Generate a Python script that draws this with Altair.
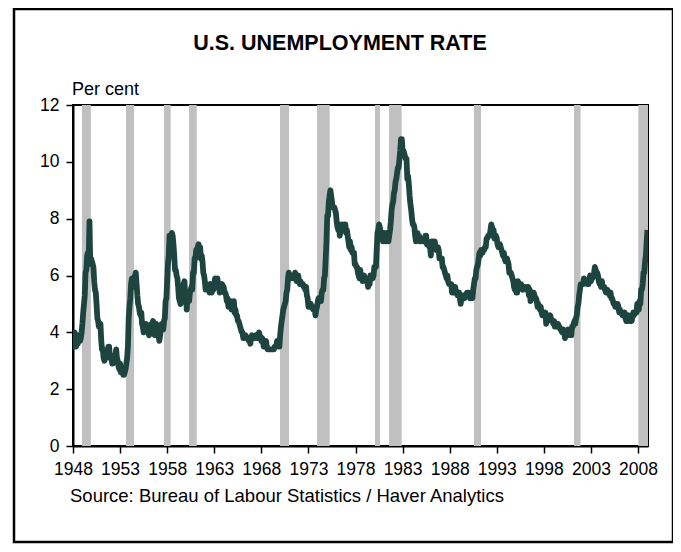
import altair as alt
import pandas as pd

# Monthly U.S. unemployment rate, per cent (Jan..Dec), 1948-2008, plus Jan 2009
years = list(range(1948, 2010))
rates = [
    [3.4, 3.8, 4.0, 3.9, 3.5, 3.6, 3.6, 3.9, 3.8, 3.7, 3.8, 4.0],  # 1948
    [4.3, 4.7, 5.0, 5.3, 6.1, 6.2, 6.7, 6.8, 6.6, 7.9, 6.4, 6.6],  # 1949
    [6.5, 6.4, 6.3, 5.8, 5.5, 5.4, 5.0, 4.5, 4.4, 4.2, 4.2, 4.3],  # 1950
    [3.7, 3.4, 3.4, 3.1, 3.0, 3.2, 3.1, 3.1, 3.3, 3.5, 3.5, 3.1],  # 1951
    [3.2, 3.1, 2.9, 2.9, 3.0, 3.0, 3.2, 3.4, 3.1, 3.0, 2.8, 2.7],  # 1952
    [2.9, 2.6, 2.6, 2.7, 2.5, 2.5, 2.6, 2.7, 2.9, 3.1, 3.5, 4.5],  # 1953
    [4.9, 5.2, 5.7, 5.9, 5.9, 5.6, 5.8, 6.0, 6.1, 5.7, 5.3, 5.0],  # 1954
    [4.9, 4.7, 4.6, 4.7, 4.3, 4.2, 4.0, 4.2, 4.1, 4.3, 4.2, 4.2],  # 1955
    [4.0, 3.9, 4.2, 4.0, 4.3, 4.3, 4.4, 4.1, 3.9, 3.9, 4.3, 4.2],  # 1956
    [4.2, 3.9, 3.7, 3.9, 4.1, 4.3, 4.2, 4.1, 4.4, 4.5, 5.1, 5.2],  # 1957
    [5.8, 6.4, 6.7, 7.4, 7.4, 7.3, 7.5, 7.4, 7.1, 6.7, 6.2, 6.2],  # 1958
    [6.0, 5.9, 5.6, 5.2, 5.1, 5.0, 5.1, 5.2, 5.5, 5.7, 5.8, 5.3],  # 1959
    [5.2, 4.8, 5.4, 5.2, 5.1, 5.4, 5.5, 5.6, 5.5, 6.1, 6.1, 6.6],  # 1960
    [6.6, 6.9, 6.9, 7.0, 7.1, 6.9, 7.0, 6.6, 6.7, 6.5, 6.1, 6.0],  # 1961
    [5.8, 5.5, 5.6, 5.6, 5.5, 5.5, 5.4, 5.7, 5.6, 5.4, 5.7, 5.5],  # 1962
    [5.7, 5.9, 5.7, 5.7, 5.9, 5.6, 5.6, 5.4, 5.5, 5.5, 5.7, 5.5],  # 1963
    [5.6, 5.4, 5.4, 5.3, 5.1, 5.2, 4.9, 5.0, 5.1, 5.1, 4.8, 5.0],  # 1964
    [4.9, 5.1, 4.7, 4.8, 4.6, 4.6, 4.4, 4.4, 4.3, 4.2, 4.1, 4.0],  # 1965
    [4.0, 3.8, 3.8, 3.8, 3.9, 3.8, 3.8, 3.8, 3.7, 3.7, 3.6, 3.8],  # 1966
    [3.9, 3.8, 3.8, 3.8, 3.8, 3.9, 3.8, 3.8, 3.8, 4.0, 3.9, 3.8],  # 1967
    [3.7, 3.8, 3.7, 3.5, 3.5, 3.7, 3.7, 3.5, 3.4, 3.4, 3.4, 3.4],  # 1968
    [3.4, 3.4, 3.4, 3.4, 3.4, 3.5, 3.5, 3.5, 3.7, 3.7, 3.5, 3.5],  # 1969
    [3.9, 4.2, 4.4, 4.6, 4.8, 4.9, 5.0, 5.1, 5.4, 5.5, 5.9, 6.1],  # 1970
    [5.9, 5.9, 6.0, 5.9, 5.9, 5.9, 6.0, 6.1, 6.0, 5.8, 6.0, 6.0],  # 1971
    [5.8, 5.7, 5.8, 5.7, 5.7, 5.7, 5.6, 5.6, 5.5, 5.6, 5.3, 5.2],  # 1972
    [4.9, 5.0, 4.9, 5.0, 4.9, 4.9, 4.8, 4.8, 4.8, 4.6, 4.8, 4.9],  # 1973
    [5.1, 5.2, 5.1, 5.1, 5.1, 5.4, 5.5, 5.5, 5.9, 6.0, 6.6, 7.2],  # 1974
    [8.1, 8.1, 8.6, 8.8, 9.0, 8.8, 8.6, 8.4, 8.4, 8.4, 8.3, 8.2],  # 1975
    [7.9, 7.7, 7.6, 7.7, 7.4, 7.6, 7.8, 7.8, 7.6, 7.7, 7.8, 7.8],  # 1976
    [7.5, 7.6, 7.4, 7.2, 7.0, 7.2, 6.9, 7.0, 6.8, 6.8, 6.8, 6.4],  # 1977
    [6.4, 6.3, 6.3, 6.1, 6.0, 5.9, 6.2, 5.9, 6.0, 5.8, 5.9, 6.0],  # 1978
    [5.9, 5.9, 5.8, 5.8, 5.6, 5.7, 5.7, 6.0, 5.9, 6.0, 5.9, 6.0],  # 1979
    [6.3, 6.3, 6.3, 6.9, 7.5, 7.6, 7.8, 7.7, 7.5, 7.5, 7.5, 7.2],  # 1980
    [7.5, 7.4, 7.4, 7.2, 7.5, 7.5, 7.2, 7.4, 7.6, 7.9, 8.3, 8.5],  # 1981
    [8.6, 8.9, 9.0, 9.3, 9.4, 9.6, 9.8, 9.8, 10.1, 10.4, 10.8, 10.8],  # 1982
    [10.4, 10.4, 10.3, 10.2, 10.1, 10.1, 9.4, 9.5, 9.2, 8.8, 8.5, 8.3],  # 1983
    [8.0, 7.8, 7.8, 7.7, 7.4, 7.2, 7.5, 7.5, 7.3, 7.4, 7.2, 7.3],  # 1984
    [7.3, 7.2, 7.2, 7.3, 7.2, 7.4, 7.4, 7.1, 7.1, 7.1, 7.0, 7.0],  # 1985
    [6.7, 7.2, 7.2, 7.1, 7.2, 7.2, 7.0, 6.9, 7.0, 7.0, 6.9, 6.6],  # 1986
    [6.6, 6.6, 6.6, 6.3, 6.3, 6.2, 6.1, 6.0, 5.9, 6.0, 5.8, 5.7],  # 1987
    [5.7, 5.7, 5.7, 5.4, 5.6, 5.4, 5.4, 5.6, 5.4, 5.4, 5.3, 5.3],  # 1988
    [5.4, 5.2, 5.0, 5.2, 5.2, 5.3, 5.2, 5.2, 5.3, 5.3, 5.4, 5.4],  # 1989
    [5.4, 5.3, 5.2, 5.4, 5.4, 5.2, 5.5, 5.7, 5.9, 5.9, 6.2, 6.3],  # 1990
    [6.4, 6.6, 6.8, 6.7, 6.9, 6.9, 6.8, 6.9, 6.9, 7.0, 7.0, 7.3],  # 1991
    [7.3, 7.4, 7.4, 7.4, 7.6, 7.8, 7.7, 7.6, 7.6, 7.3, 7.4, 7.4],  # 1992
    [7.3, 7.1, 7.0, 7.1, 7.1, 7.0, 6.9, 6.8, 6.7, 6.8, 6.6, 6.5],  # 1993
    [6.6, 6.6, 6.5, 6.4, 6.1, 6.1, 6.1, 6.0, 5.9, 5.8, 5.6, 5.5],  # 1994
    [5.6, 5.4, 5.4, 5.8, 5.6, 5.6, 5.7, 5.7, 5.6, 5.5, 5.6, 5.6],  # 1995
    [5.6, 5.5, 5.5, 5.6, 5.6, 5.3, 5.5, 5.1, 5.2, 5.2, 5.4, 5.4],  # 1996
    [5.3, 5.2, 5.2, 5.1, 4.9, 5.0, 4.9, 4.8, 4.9, 4.7, 4.6, 4.7],  # 1997
    [4.6, 4.6, 4.7, 4.3, 4.4, 4.5, 4.5, 4.5, 4.6, 4.5, 4.4, 4.4],  # 1998
    [4.3, 4.4, 4.2, 4.3, 4.2, 4.3, 4.3, 4.2, 4.2, 4.1, 4.1, 4.0],  # 1999
    [4.0, 4.1, 4.0, 3.8, 4.0, 4.0, 4.0, 4.1, 3.9, 3.9, 3.9, 3.9],  # 2000
    [4.2, 4.2, 4.3, 4.4, 4.3, 4.5, 4.6, 4.9, 5.0, 5.3, 5.5, 5.7],  # 2001
    [5.7, 5.7, 5.7, 5.9, 5.8, 5.8, 5.8, 5.7, 5.7, 5.7, 5.9, 6.0],  # 2002
    [5.8, 5.9, 5.9, 6.0, 6.1, 6.3, 6.2, 6.1, 6.1, 6.0, 5.8, 5.7],  # 2003
    [5.7, 5.6, 5.8, 5.6, 5.6, 5.6, 5.5, 5.4, 5.4, 5.5, 5.4, 5.4],  # 2004
    [5.3, 5.4, 5.2, 5.2, 5.1, 5.0, 5.0, 4.9, 5.0, 5.0, 5.0, 4.9],  # 2005
    [4.7, 4.8, 4.7, 4.7, 4.6, 4.6, 4.7, 4.7, 4.5, 4.4, 4.5, 4.4],  # 2006
    [4.6, 4.5, 4.4, 4.5, 4.4, 4.6, 4.7, 4.6, 4.7, 4.7, 4.7, 5.0],  # 2007
    [4.9, 4.8, 5.1, 5.0, 5.5, 5.5, 5.7, 6.1, 6.1, 6.5, 6.7, 7.2],  # 2008
    [7.6],                                                          # 2009
]

# Recession bands (decimal years)
rec_start = [1948.95, 1953.63, 1957.66, 1960.32, 1969.98, 1973.91, 1980.07, 1981.56, 1990.58, 2001.20, 2008.03]
rec_end = [1949.90, 1954.48, 1958.37, 1961.14, 1970.94, 1975.26, 1980.60, 1982.90, 1991.33, 2001.90, 2009.10]

x_ticks = [1948, 1953, 1958, 1963, 1968, 1973, 1978, 1983, 1988, 1993, 1998, 2003, 2008]
y_ticks = [0, 2, 4, 6, 8, 10, 12]

title_text = "U.S. UNEMPLOYMENT RATE"
unit_text = "Per cent"
source_text = "Source: Bureau of Labour Statistics / Haver Analytics"

X_DOMAIN = [1948, 2009.06]
FONT = "Liberation Sans"

rows = []
for yr, vals in zip(years, rates):
    for i, v in enumerate(vals):
        rows.append({"t": yr + i / 12.0, "rate": v})
line_df = pd.DataFrame(rows)
rec_df = pd.DataFrame({"start": rec_start, "end": rec_end})

W, H = 575, 341

xscale = alt.Scale(domain=X_DOMAIN, nice=False, zero=False)
yscale = alt.Scale(domain=[0, 12], nice=False)

one = pd.DataFrame({"a": [0]})

frame = alt.Chart(one).mark_rect(
    fill="white", fillOpacity=0, stroke="black", strokeWidth=2.5
).encode(
    x=alt.value(-59), x2=alt.value(600), y=alt.value(-96), y2=alt.value(437)
)

bands = alt.Chart(rec_df).mark_rect(color="#c0c0c0", clip=True).encode(
    x=alt.X("start:Q", scale=xscale,
            axis=alt.Axis(values=x_ticks, format="d", title=None, grid=False,
                          labelFontSize=17.5, labelFont=FONT, labelColor="black",
                          tickColor="black", tickSize=7, tickWidth=1.5,
                          domainColor="black", domainWidth=2, labelPadding=7,
                          labelFlush=False, labelOverlap=False)),
    x2="end:Q",
    y=alt.value(0),
    y2=alt.value(H),
)

line = alt.Chart(line_df).mark_line(
    color="#1e4440", strokeWidth=5.8, clip=True, strokeJoin="round"
).encode(
    x=alt.X("t:Q", scale=xscale),
    y=alt.Y("rate:Q", scale=yscale,
            axis=alt.Axis(values=y_ticks, title=None, grid=False,
                          labelFontSize=17.5, labelFont=FONT, labelColor="black",
                          tickColor="black", tickSize=7, tickWidth=1.5,
                          domainColor="black", domainWidth=2, labelPadding=7)),
)

title = alt.Chart(pd.DataFrame({"s": [title_text]})).mark_text(
    font=FONT, fontSize=21.5, fontWeight="bold", color="black", align="center", baseline="alphabetic"
).encode(x=alt.value(267), y=alt.value(-55), text="s:N")

unit = alt.Chart(pd.DataFrame({"s": [unit_text]})).mark_text(
    font=FONT, fontSize=18, color="black", align="left", baseline="alphabetic"
).encode(x=alt.value(-1), y=alt.value(-10), text="s:N")

source = alt.Chart(pd.DataFrame({"s": [source_text]})).mark_text(
    font=FONT, fontSize=18.5, color="black", align="left", baseline="alphabetic"
).encode(x=alt.value(-3), y=alt.value(397), text="s:N")

chart = alt.layer(frame, bands, line, title, unit, source).properties(
    width=W, height=H,
    autosize=alt.AutoSizeParams(type="none"),
    padding={"left": 65, "top": 97, "right": 25, "bottom": 98},
    background="white",
).configure_view(stroke="black", strokeWidth=2)

chart.save("out.html", embed_options={"renderer": "svg", "actions": False})
